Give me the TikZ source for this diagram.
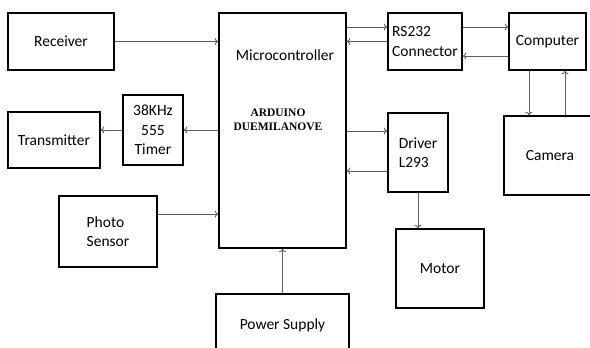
\documentclass[tikz,border=0pt]{standalone}
\usepackage{fontspec}
\setmainfont{Carlito}
\newfontfamily\boardfont{Liberation Serif}
\usepackage{tikz}
\usetikzlibrary{arrows.meta, positioning}

\begin{document}
\begin{tikzpicture}[x=1pt, y=-1pt,
    font=\fontsize{15.5}{19.5}\selectfont,
    blk/.style={draw, line width=1.6pt, inner sep=1pt, align=left},
    arr/.style={-{To[length=3.5pt, width=7pt]}, draw=gray!75!black, line width=0.9pt}]
    \clip (0,0) rectangle (590,348);

    % left column
    \node[blk, minimum width=106pt, minimum height=57pt] (rcv) at (61,41.5) {Receiver};
    \node[blk, minimum width=92pt, minimum height=56pt] (tx) at (54,140) {Transmitter};
    \node[blk, minimum width=60pt, minimum height=70pt, align=center] (timer) at (153,130) {38KHz\\555\\Timer};
    \node[blk, minimum width=98pt, minimum height=71pt] (photo) at (108,231.5) {Photo\\Sensor};

    % controller and supply
    \node[blk, minimum width=127pt, minimum height=235pt] (mcu) at (282.5,130.5) {};
    \node (mcutitle) at (285,55) {Microcontroller};
    \node[font=\boardfont\bfseries\fontsize{11.5}{14}\selectfont, align=center] (board) at (278,120) {ARDUINO\\DUEMILANOVE};
    \node[blk, minimum width=133pt, minimum height=62pt] (psu) at (282.5,325) {Power Supply};

    % right side
    \node[blk, minimum width=74pt, minimum height=57pt] (rs) at (425,41.5) {RS232\\Connector};
    \node[blk, minimum width=77pt, minimum height=57pt] (pc) at (547.5,41.5) {Computer};
    \node[blk, minimum width=92pt, minimum height=79pt] (cam) at (550,155.5) {Camera};
    \node[blk, minimum width=60pt, minimum height=79pt] (drv) at (418,152.5) {Driver\\L293};
    \node[blk, minimum width=88pt, minimum height=79pt] (mot) at (440,268.5) {Motor};

    \draw[arr] (rcv.east) -- (rcv.east -| mcu.west);
    \draw[arr] (timer.east -| mcu.west) -- (timer.east);
    \draw[arr] (timer.west) -- (timer.west -| tx.east);
    \draw[arr] ([yshift=17.5pt]photo.east) -- ([yshift=17.5pt]photo.east -| mcu.west);
    \draw[arr] (psu.north) -- (psu.north |- mcu.south);

    \draw[arr] ([yshift=14.5pt]rs.west -| mcu.east) -- ([yshift=14.5pt]rs.west);
    \draw[arr] (rs.west) -- (rs.west -| mcu.east);
    \draw[arr] ([yshift=14.5pt]rs.east) -- ([yshift=14.5pt]rs.east -| pc.west);
    \draw[arr] ([yshift=-14.5pt]pc.west) -- ([yshift=-14.5pt]pc.west -| rs.east);
    \draw[arr] ([xshift=-18.5pt]pc.south) -- ([xshift=-18.5pt]pc.south |- cam.north);
    \draw[arr] ([xshift=17.5pt]pc.south |- cam.north) -- ([xshift=17.5pt]pc.south);
    \draw[arr] ([yshift=21.5pt]drv.west -| mcu.east) -- ([yshift=21.5pt]drv.west);
    \draw[arr] ([yshift=-18.5pt]drv.west) -- ([yshift=-18.5pt]drv.west -| mcu.east);
    \draw[arr] (drv.south) -- (drv.south |- mot.north);
\end{tikzpicture}
\end{document}
